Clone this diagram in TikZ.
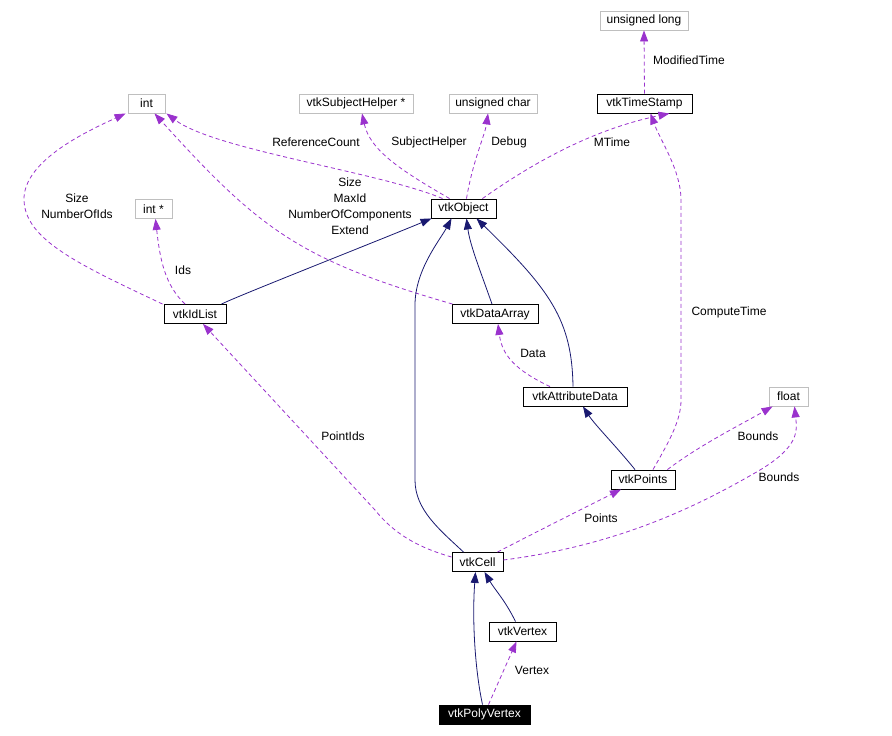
\documentclass[tikz,border=0pt]{standalone}
\usepackage{fontspec}
\setmainfont{Liberation Sans}
\usetikzlibrary{arrows.meta}
\definecolor{useclr}{RGB}{154,50,205}
\definecolor{inhclr}{RGB}{25,25,112}
\definecolor{extclr}{RGB}{191,191,191}
\def\Fsz{\fontsize{12}{13}\selectfont}
\tikzset{
    cls/.style={draw=black, line width=0.9pt, minimum height=19pt,
        inner sep=0pt, font=\Fsz},
    ext/.style={cls, draw=extclr},
    focus/.style={cls, fill=black, text=white},
    uses/.style={draw=useclr, line width=0.8pt, dash pattern=on 4pt off 3pt,
        -{Triangle[length=11pt,width=8pt,fill=useclr]}},
    inherits/.style={draw=inhclr, line width=0.8pt,
        -{Triangle[length=11pt,width=8pt,fill=inhclr]}},
    lbl/.style={font=\Fsz, inner sep=0pt, align=center}
}

\begin{document}
\begin{tikzpicture}[x=1pt, y=-1pt]
    \useasboundingbox (0,0) rectangle (892,736);
    % classes
    \node[ext, minimum width=88pt] (ulong) at (644,20.5) {unsigned long};
    \node[ext, minimum width=37pt] (intT) at (146.5,103.5) {int};
    \node[ext, minimum width=114pt] (subj) at (356,103.5) {vtkSubjectHelper *};
    \node[ext, minimum width=88pt] (uchar) at (493,103.5) {unsigned char};
    \node[cls, minimum width=95pt] (ts) at (644.5,103.5) {vtkTimeStamp};
    \node[cls, minimum width=65pt] (obj) at (463.5,208.5) {vtkObject};
    \node[ext, minimum width=37pt] (intp) at (153.5,209) {int *};
    \node[cls, minimum width=62pt] (idlist) at (195,314) {vtkIdList};
    \node[cls, minimum width=86pt] (darr) at (495,314) {vtkDataArray};
    \node[cls, minimum width=104pt] (attr) at (575,396.5) {vtkAttributeData};
    \node[ext, minimum width=39pt] (flt) at (788.5,396.5) {float};
    \node[cls, minimum width=64pt] (pts) at (643,479.5) {vtkPoints};
    \node[cls, minimum width=51pt] (cell) at (477.5,562) {vtkCell};
    \node[cls, minimum width=67pt] (vert) at (522.5,631.5) {vtkVertex};
    \node[focus, minimum width=91pt] (poly) at (484.5,714.5) {vtkPolyVertex};

    % usage relations
    \draw[uses] (ts.north) -- (ulong.south);
    \draw[uses] ([xshift=12pt]obj.north west) .. controls (380,172) and (215,150) .. ([xshift=1pt]intT.south east);
    \draw[uses] ([xshift=19pt]obj.north west) .. controls (400,170) and (370,150) .. ([xshift=6pt]subj.south);
    \draw[uses] ([xshift=3pt]obj.north) .. controls (473,160) and (485,135) .. ([xshift=-5pt]uchar.south);
    \draw[uses] ([xshift=-14pt]obj.north east) .. controls (530,165) and (590,130) .. ([xshift=-23pt]ts.south east);
    \draw[uses] ([xshift=-1pt]idlist.north west) .. controls (80,265) and (25,240) .. (24,200)
        .. controls (23,160) and (90,130) .. ([xshift=-2pt]intT.south west);
    \draw[uses] ([xshift=-10pt]idlist.north) .. controls (165,285) and (160,260) .. ([xshift=2pt]intp.south);
    \draw[uses] ([xshift=1pt]darr.north west) .. controls (300,260) and (260,230) .. ([xshift=8pt]intT.south);
    \draw[uses] ([xshift=-25pt]attr.north) .. controls (515,370) and (502,355) .. ([xshift=3pt]darr.south);
    \draw[uses] ([xshift=10pt]pts.north) .. controls (670,440) and (681,420) .. (681,400) -- (681,200)
        .. controls (681,170) and (660,140) .. ([xshift=6pt]ts.south);
    \draw[uses] ([xshift=-8pt]pts.north east) .. controls (700,445) and (740,425) .. ([xshift=4pt]flt.south west);
    \draw[uses] ([yshift=2pt]cell.east) .. controls (620,545) and (700,505) .. (760,470)
        .. controls (800,446) and (797,430) .. ([xshift=6pt]flt.south);
    \draw[uses] ([xshift=-6pt]cell.north east) .. controls (540,530) and (590,505) .. ([xshift=-22pt]pts.south);
    \draw[uses] ([yshift=5pt]cell.west) .. controls (420,548) and (395,535) .. (375,510) -- ([xshift=8pt]idlist.south);
    \draw[uses] ([xshift=4pt]poly.north) -- ([xshift=-6pt]vert.south);

    % inheritance
    \draw[inherits] ([xshift=-5pt]idlist.north east) .. controls (240,295) and (380,240) .. ([xshift=1pt]obj.south west);
    \draw[inherits] ([xshift=-3pt]darr.north) .. controls (480,270) and (470,245) .. ([xshift=3pt]obj.south);
    \draw[inherits] ([xshift=-2pt]attr.north) .. controls (572,320) and (550,290) .. ([xshift=-20pt]obj.south east);
    \draw[inherits] ([xshift=-14pt]cell.north) .. controls (440,530) and (415,510) .. (415,480) -- (415,305)
        .. controls (415,270) and (440,240) .. ([xshift=-12pt]obj.south);
    \draw[inherits] ([xshift=-8pt]pts.north) .. controls (615,445) and (595,425) .. ([xshift=8pt]attr.south);
    \draw[inherits] ([xshift=-7pt]vert.north) .. controls (505,600) and (495,590) .. ([xshift=7pt]cell.south);
    \draw[inherits] ([xshift=-2pt]poly.north) .. controls (475,670) and (472,620) .. ([xshift=-2pt]cell.south);

    % member names
    \node[lbl] (lModTime) at (689,60) {ModifiedTime};
    \node[lbl] (lRefCnt) at (316,142) {ReferenceCount};
    \node[lbl] (lSubj) at (429,142) {SubjectHelper};
    \node[lbl] (lDebug) at (509,142) {Debug};
    \node[lbl] (lMTime) at (612,142) {MTime};
    \node[lbl] (lIdSize) at (77,206) {Size\\[3pt]NumberOfIds};
    \node[lbl] (lArrSize) at (350,206) {Size\\[3pt]MaxId\\[3pt]NumberOfComponents\\[3pt]Extend};
    \node[lbl] (lIds) at (183,270) {Ids};
    \node[lbl] (lCompT) at (729,312) {ComputeTime};
    \node[lbl] (lData) at (533,353) {Data};
    \node[lbl] (lPtIds) at (343,436) {PointIds};
    \node[lbl] (lBnd1) at (758,436) {Bounds};
    \node[lbl] (lBnd2) at (779,477) {Bounds};
    \node[lbl] (lPts) at (601,518) {Points};
    \node[lbl] (lVert) at (532,670) {Vertex};
\end{tikzpicture}
\end{document}
